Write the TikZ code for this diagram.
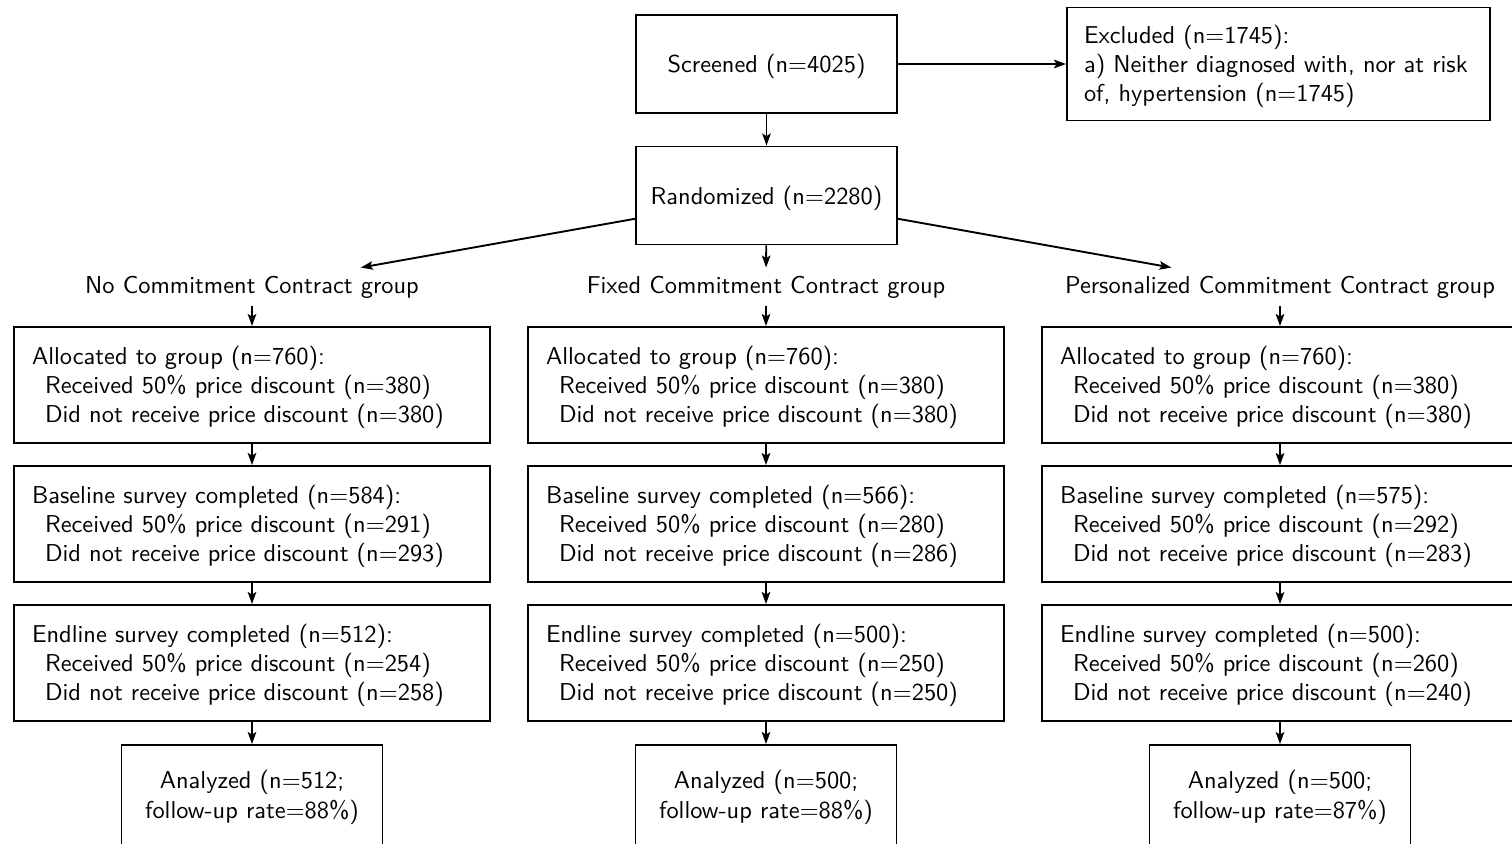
\documentclass[tikz,border=0pt]{standalone}
\usepackage{fontspec}
\setsansfont{lmsans10-regular}[Extension=.otf]
\usetikzlibrary{arrows.meta}
\newcommand{\ind}{\hspace*{13pt}}
\newcommand{\up}{\rule{0pt}{23.3pt}}
\newcommand{\upa}{\rule{0pt}{21.3pt}}
\begin{document}
\begin{tikzpicture}[x=1pt,y=-1pt,
  every node/.style={font=\sffamily\fontsize{24.4}{29.3}\selectfont},
  cbox/.style={draw, line width=1.9pt, minimum width=261pt, minimum height=98pt, inner sep=0pt, align=center},
  gbox/.style={draw, line width=1.9pt, text width=440pt, inner xsep=18pt, inner ysep=0pt, minimum height=116pt, align=left},
  exbox/.style={draw, line width=1.9pt, text width=389pt, inner xsep=17pt, inner ysep=0pt, minimum height=113pt, align=left},
  lab/.style={inner sep=8pt, anchor=base},
  arr/.style={-{Stealth[length=12pt,width=8.5pt,inset=2.5pt]}, line width=1.9pt}
]
\useasboundingbox (0,0) rectangle (1512,843);
\clip (0,0) rectangle (1512,843);

\node[cbox] (screen) at (766.5,64) {\up Screened (n=4025)};
\node[exbox] (excl) at (1278.5,64) {\up Excluded (n=1745):\\a) Neither diagnosed with, nor at risk\\of, hypertension (n=1745)};
\node[cbox] (rand) at (766.5,195.5) {\up Randomized (n=2280)};

\node[lab] (lab1) at (252,293) {No Commitment Contract group};
\node[lab] (lab2) at (766,293) {Fixed Commitment Contract group};
\node[lab] (lab3) at (1280,293) {Personalized Commitment Contract group};

\node[gbox] (al1) at (252,385) {\up Allocated to group (n=760):\\\ind Received 50\% price discount (n=380)\\\ind Did not receive price discount (n=380)};
\node[gbox] (al2) at (766,385) {\up Allocated to group (n=760):\\\ind Received 50\% price discount (n=380)\\\ind Did not receive price discount (n=380)};
\node[gbox] (al3) at (1280,385) {\up Allocated to group (n=760):\\\ind Received 50\% price discount (n=380)\\\ind Did not receive price discount (n=380)};

\node[gbox] (ba1) at (252,524) {\up Baseline survey completed (n=584):\\\ind Received 50\% price discount (n=291)\\\ind Did not receive price discount (n=293)};
\node[gbox] (ba2) at (766,524) {\up Baseline survey completed (n=566):\\\ind Received 50\% price discount (n=280)\\\ind Did not receive price discount (n=286)};
\node[gbox] (ba3) at (1280,524) {\up Baseline survey completed (n=575):\\\ind Received 50\% price discount (n=292)\\\ind Did not receive price discount (n=283)};

\node[gbox] (en1) at (252,663) {\up Endline survey completed (n=512):\\\ind Received 50\% price discount (n=254)\\\ind Did not receive price discount (n=258)};
\node[gbox] (en2) at (766,663) {\up Endline survey completed (n=500):\\\ind Received 50\% price discount (n=250)\\\ind Did not receive price discount (n=250)};
\node[gbox] (en3) at (1280,663) {\up Endline survey completed (n=500):\\\ind Received 50\% price discount (n=260)\\\ind Did not receive price discount (n=240)};

\node[cbox, minimum height=102pt] (an1) at (252,796) {\upa Analyzed (n=512;\\follow-up rate=88\%)};
\node[cbox, minimum height=102pt] (an2) at (766,796) {\upa Analyzed (n=500;\\follow-up rate=88\%)};
\node[cbox, minimum height=102pt] (an3) at (1280,796) {\upa Analyzed (n=500;\\follow-up rate=87\%)};

\draw[arr] (screen) -- (excl);
\draw[arr] (screen) -- (rand);
\draw[arr] (rand) -- (lab1);
\draw[arr] (rand) -- (lab2);
\draw[arr] (rand) -- (lab3);
\foreach \i in {1,2,3}{
  \draw[arr] (lab\i) -- (al\i);
  \draw[arr] (al\i) -- (ba\i);
  \draw[arr] (ba\i) -- (en\i);
  \draw[arr] (en\i) -- (an\i);
}
\end{tikzpicture}
\end{document}
